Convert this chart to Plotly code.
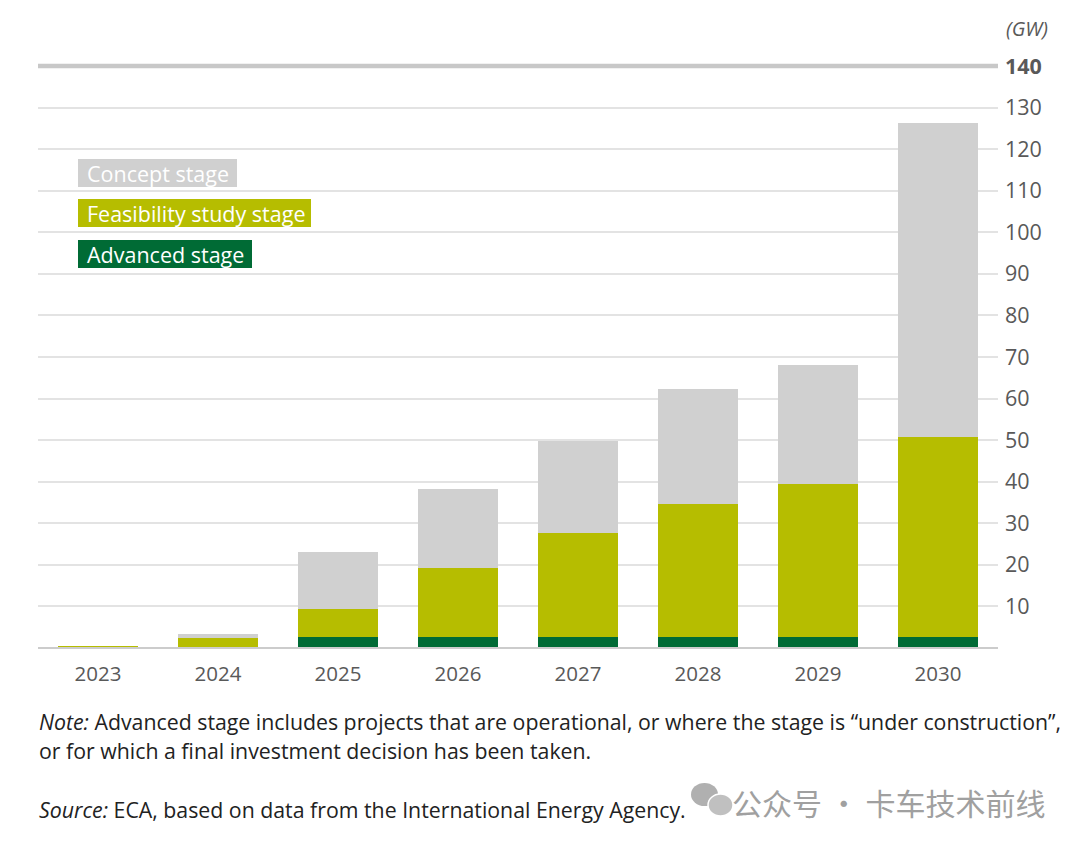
import plotly.graph_objects as go

years = ["2023", "2024", "2025", "2026", "2027", "2028", "2029", "2030"]
advanced = [0.0, 0.3, 2.6, 2.6, 2.6, 2.6, 2.6, 2.6]
feasibility = [0.6, 2.1, 6.8, 16.6, 25.1, 32.0, 36.9, 48.2]
concept = [0.0, 1.0, 13.7, 19.0, 22.1, 27.7, 28.6, 75.5]

tick_vals = [10, 20, 30, 40, 50, 60, 70, 80, 90, 100, 110, 120, 130, 140]
tick_text = [str(v) for v in tick_vals[:-1]] + ["<b>140</b>"]

C_ADV = "#006b35"
C_FEA = "#b6bd00"
C_CON = "#d0d0d0"
FONT = "Open Sans"
TXT = "#595959"

OFF = 8  # page body margin offset
fig = go.Figure()
for name, vals, col in [("Advanced stage", advanced, C_ADV),
                        ("Feasibility study stage", feasibility, C_FEA),
                        ("Concept stage", concept, C_CON)]:
    fig.add_trace(go.Bar(x=years, y=vals, name=name, marker=dict(color=col, line=dict(width=0)),
                         showlegend=False))

L, T = 38 - OFF, 66 - OFF
R = 1080 - 998 + OFF
B = 845 - 648 + OFF
W = 1080 - L - R
H = 845 - T - B

def px(x):
    return (x - OFF - L) / W

def py(y):
    return (845 - B - (y - OFF)) / H

fig.update_layout(
    barmode="stack",
    bargap=0.333,
    width=1080, height=845,
    margin=dict(l=L, r=R, t=T, b=B, autoexpand=False),
    paper_bgcolor="white", plot_bgcolor="white",
    font=dict(family=FONT, color=TXT, size=20),
    xaxis=dict(range=[-0.5, 7.5], showgrid=False, showline=False, zeroline=False,
               ticks="", ticklabelstandoff=11, tickfont=dict(size=20.5, color=TXT)),
    yaxis=dict(range=[0, 140], side="right", tickvals=tick_vals, ticktext=tick_text,
               showgrid=True, gridcolor="#e3e3e3", gridwidth=1.5, zeroline=False,
               showline=False, ticks="", ticklabelstandoff=6,
               tickfont=dict(size=21.5, color=TXT)),
)

# baseline and top line
fig.add_shape(type="line", xref="paper", yref="paper", x0=0, x1=1, y0=0, y1=0,
              line=dict(color="#cccccc", width=2))
fig.add_shape(type="line", xref="paper", yref="paper", x0=0, x1=1, y0=1, y1=1,
              line=dict(color="#c8c8c8", width=4.5))

# legend boxes
for label, col, x1, y0, y1 in [("Concept stage", C_CON, 237, 159, 187),
                               ("Feasibility study stage", C_FEA, 311, 199, 227),
                               ("Advanced stage", C_ADV, 252, 240, 268)]:
    fig.add_shape(type="rect", xref="paper", yref="paper", x0=px(78), x1=px(x1),
                  y0=py(y1), y1=py(y0), fillcolor=col, line=dict(width=0))
    fig.add_annotation(xref="paper", yref="paper", x=px(85), y=py((y0 + y1) / 2 + 0.5),
                       xanchor="left", yanchor="middle", text=label, showarrow=False,
                       font=dict(size=21.5, color="white", family=FONT))

# unit label
fig.add_annotation(xref="paper", yref="paper", x=px(1050), y=py(28), xanchor="right",
                   yanchor="middle", text="<i>(GW)</i>", showarrow=False,
                   font=dict(size=20, color=TXT))

# notes
NOTE_FONT = dict(size=21.3, color="#222222")
fig.add_annotation(xref="paper", yref="paper", x=px(37), y=py(721), xanchor="left",
                   yanchor="middle", showarrow=False, align="left",
                   text="<i>Note:</i> Advanced stage includes projects that are operational, or where the stage is \u201cunder construction\u201d,",
                   font=NOTE_FONT)
fig.add_annotation(xref="paper", yref="paper", x=px(37), y=py(750), xanchor="left",
                   yanchor="middle", showarrow=False, align="left",
                   text="or for which a final investment decision has been taken.",
                   font=NOTE_FONT)
fig.add_annotation(xref="paper", yref="paper", x=px(37), y=py(810), xanchor="left",
                   yanchor="middle", showarrow=False, align="left",
                   text="<i>Source:</i> ECA, based on data from the International Energy Agency.",
                   font=NOTE_FONT)

# watermark
fig.add_annotation(xref="paper", yref="paper", x=px(1047), y=py(802), xanchor="right",
                   yanchor="middle", showarrow=False,
                   text="公众号 · 卡车技术前线",
                   font=dict(size=30, color="#a0a0a0", family="Noto Sans CJK SC"))
fig.add_shape(type="circle", xref="paper", yref="paper",
              x0=px(691), x1=px(718), y0=py(806), y1=py(783),
              fillcolor="#b0b0b0", line=dict(width=0))
fig.add_shape(type="circle", xref="paper", yref="paper",
              x0=px(708), x1=px(733), y0=py(816), y1=py(794),
              fillcolor="#c0c0c0", line=dict(color="white", width=1.5))

fig.write_html("out.html")
